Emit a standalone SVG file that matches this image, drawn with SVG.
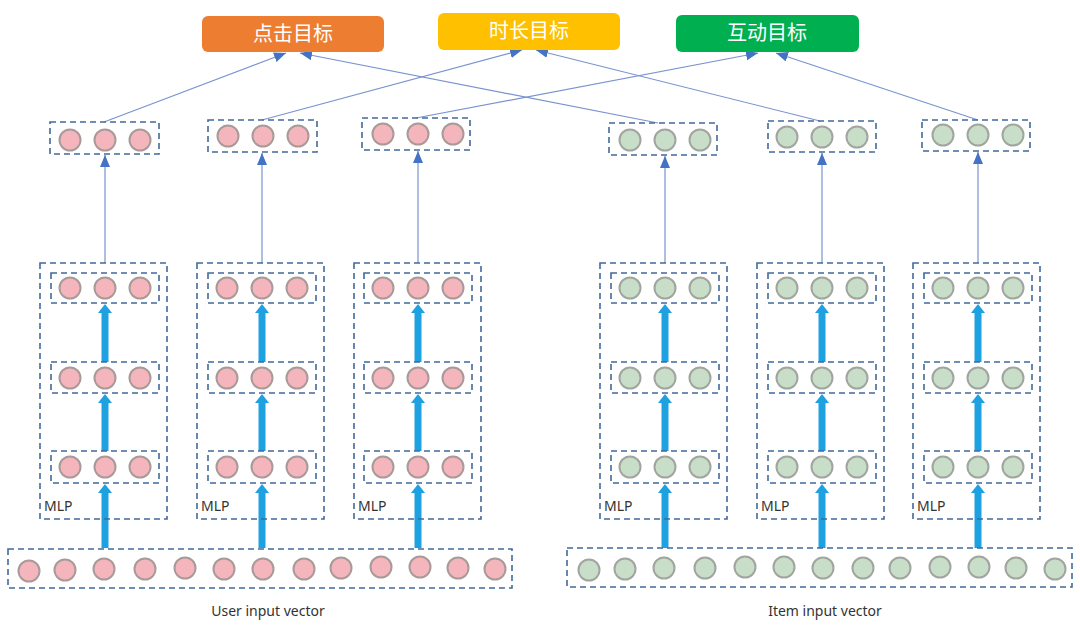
<svg xmlns="http://www.w3.org/2000/svg" width="1080" height="630" viewBox="0 0 1080 630">
<defs>
<style>
.dash{fill:none;stroke:#41699a;stroke-width:1.6;stroke-dasharray:6 4}
.p{fill:#f4b6bc;stroke:#a99a9a;stroke-width:2}
.g{fill:#c8dec8;stroke:#a0a69f;stroke-width:2}
.thin{fill:none;stroke:#7a93d0;stroke-width:1.2;marker-end:url(#ah)}
.thick{fill:none;stroke:#1ea1e0;stroke-width:7;marker-end:url(#bh)}
.tt{font-family:"Noto Sans CJK SC",sans-serif;font-size:20px;fill:#ffffff;text-anchor:middle}
.lb{font-family:"Noto Sans","Liberation Sans",sans-serif;font-size:14px;fill:#333333}
</style>
<marker id="ah" markerUnits="userSpaceOnUse" markerWidth="13" markerHeight="11" refX="12" refY="5" orient="auto"><path d="M0,0 L12,5 L0,10 z" fill="#4472c4"/></marker>
<marker id="bh" markerUnits="userSpaceOnUse" markerWidth="16" markerHeight="16" refX="2" refY="7" orient="auto"><path d="M0,0 L9,7 L0,14 z" fill="#1ea1e0"/></marker>
<g id="c3p"><circle cx="-35" cy="0" r="10.5" class="p"/><circle cx="0" cy="0" r="10.5" class="p"/><circle cx="35" cy="0" r="10.5" class="p"/></g>
<g id="c3g"><circle cx="-35" cy="0" r="10.5" class="g"/><circle cx="0" cy="0" r="10.5" class="g"/><circle cx="35" cy="0" r="10.5" class="g"/></g>
</defs>
<rect width="1080" height="630" fill="#ffffff"/>

<g id="connectors">
<line class="thin" x1="104" y1="122" x2="286" y2="53"/>
<line class="thin" x1="658" y1="123" x2="300" y2="53"/>
<line class="thin" x1="262" y1="120" x2="522" y2="50"/>
<line class="thin" x1="820" y1="121" x2="536" y2="50"/>
<line class="thin" x1="416" y1="118" x2="758" y2="53"/>
<line class="thin" x1="978" y1="120" x2="776" y2="53"/>
<line class="thin" x1="105" y1="263" x2="105" y2="155"/>
<line class="thin" x1="262" y1="263" x2="262" y2="153"/>
<line class="thin" x1="418" y1="263" x2="418" y2="151"/>
<line class="thin" x1="665" y1="263" x2="665" y2="156"/>
<line class="thin" x1="822" y1="263" x2="822" y2="153"/>
<line class="thin" x1="978" y1="263" x2="978" y2="152"/>
<line class="thick" x1="105" y1="548" x2="105" y2="491"/><line class="thick" x1="105" y1="451" x2="105" y2="401"/><line class="thick" x1="105" y1="362" x2="105" y2="311"/>
<line class="thick" x1="262" y1="548" x2="262" y2="491"/><line class="thick" x1="262" y1="451" x2="262" y2="401"/><line class="thick" x1="262" y1="362" x2="262" y2="311"/>
<line class="thick" x1="418" y1="548" x2="418" y2="491"/><line class="thick" x1="418" y1="451" x2="418" y2="401"/><line class="thick" x1="418" y1="362" x2="418" y2="311"/>
<line class="thick" x1="665" y1="548" x2="665" y2="491"/><line class="thick" x1="665" y1="451" x2="665" y2="401"/><line class="thick" x1="665" y1="362" x2="665" y2="311"/>
<line class="thick" x1="822" y1="548" x2="822" y2="491"/><line class="thick" x1="822" y1="451" x2="822" y2="401"/><line class="thick" x1="822" y1="362" x2="822" y2="311"/>
<line class="thick" x1="978" y1="548" x2="978" y2="491"/><line class="thick" x1="978" y1="451" x2="978" y2="401"/><line class="thick" x1="978" y1="362" x2="978" y2="311"/>
</g>

<g id="target-click"><rect x="202" y="16" width="182" height="36" rx="6" fill="#ed7d31"/><text class="tt" x="293" y="41">点击目标</text></g>
<g id="target-duration"><rect x="438" y="13" width="182" height="37" rx="6" fill="#ffc000"/><text class="tt" x="529" y="38">时长目标</text></g>
<g id="target-interact"><rect x="676" y="15" width="183" height="37" rx="6" fill="#00b050"/><text class="tt" x="767" y="40">互动目标</text></g>

<g id="user-out-1"><rect class="dash" x="50" y="122" width="109" height="32"/><use href="#c3p" x="105" y="140"/></g>
<g id="user-out-2"><rect class="dash" x="208" y="120" width="109" height="32"/><use href="#c3p" x="263" y="136"/></g>
<g id="user-out-3"><rect class="dash" x="362" y="118" width="108" height="32"/><use href="#c3p" x="418" y="134"/></g>
<g id="item-out-1"><rect class="dash" x="609" y="123" width="108" height="32"/><use href="#c3g" x="665" y="140"/></g>
<g id="item-out-2"><rect class="dash" x="768" y="121" width="108" height="31"/><use href="#c3g" x="822" y="137"/></g>
<g id="item-out-3"><rect class="dash" x="922" y="120" width="108" height="31"/><use href="#c3g" x="978" y="135"/></g>

<g id="user-mlp-1"><rect class="dash" x="40" y="263" width="127" height="256"/>
<rect class="dash" x="51" y="273" width="108" height="30"/><use href="#c3p" x="105" y="288"/>
<rect class="dash" x="51" y="362" width="108" height="31"/><use href="#c3p" x="105" y="378"/>
<rect class="dash" x="51" y="451" width="108" height="32"/><use href="#c3p" x="105" y="467"/>
<text class="lb" x="44" y="511">MLP</text></g>
<g id="user-mlp-2"><rect class="dash" x="197" y="263" width="127" height="256"/>
<rect class="dash" x="208" y="273" width="108" height="30"/><use href="#c3p" x="262" y="288"/>
<rect class="dash" x="208" y="362" width="108" height="31"/><use href="#c3p" x="262" y="378"/>
<rect class="dash" x="208" y="451" width="108" height="32"/><use href="#c3p" x="262" y="467"/>
<text class="lb" x="201" y="511">MLP</text></g>
<g id="user-mlp-3"><rect class="dash" x="354" y="263" width="127" height="256"/>
<rect class="dash" x="364" y="273" width="108" height="30"/><use href="#c3p" x="418" y="288"/>
<rect class="dash" x="364" y="362" width="108" height="31"/><use href="#c3p" x="418" y="378"/>
<rect class="dash" x="364" y="451" width="108" height="32"/><use href="#c3p" x="418" y="467"/>
<text class="lb" x="358" y="511">MLP</text></g>
<g id="item-mlp-1"><rect class="dash" x="600" y="263" width="127" height="256"/>
<rect class="dash" x="611" y="273" width="108" height="30"/><use href="#c3g" x="665" y="288"/>
<rect class="dash" x="611" y="362" width="108" height="31"/><use href="#c3g" x="665" y="378"/>
<rect class="dash" x="611" y="451" width="108" height="32"/><use href="#c3g" x="665" y="467"/>
<text class="lb" x="604" y="511">MLP</text></g>
<g id="item-mlp-2"><rect class="dash" x="757" y="263" width="127" height="256"/>
<rect class="dash" x="768" y="273" width="108" height="30"/><use href="#c3g" x="822" y="288"/>
<rect class="dash" x="768" y="362" width="108" height="31"/><use href="#c3g" x="822" y="378"/>
<rect class="dash" x="768" y="451" width="108" height="32"/><use href="#c3g" x="822" y="467"/>
<text class="lb" x="761" y="511">MLP</text></g>
<g id="item-mlp-3"><rect class="dash" x="913" y="263" width="127" height="256"/>
<rect class="dash" x="924" y="273" width="108" height="30"/><use href="#c3g" x="978" y="288"/>
<rect class="dash" x="924" y="362" width="108" height="31"/><use href="#c3g" x="978" y="378"/>
<rect class="dash" x="924" y="451" width="108" height="32"/><use href="#c3g" x="978" y="467"/>
<text class="lb" x="917" y="511">MLP</text></g>

<g id="user-input"><rect class="dash" x="8" y="549" width="504" height="39"/>
<circle cx="29" cy="571" r="10.5" class="p"/><circle cx="65" cy="570" r="10.5" class="p"/><circle cx="104" cy="569" r="10.5" class="p"/><circle cx="145" cy="569" r="10.5" class="p"/><circle cx="185" cy="568" r="10.5" class="p"/><circle cx="224" cy="569" r="10.5" class="p"/><circle cx="263" cy="569" r="10.5" class="p"/><circle cx="304" cy="569" r="10.5" class="p"/><circle cx="341" cy="568" r="10.5" class="p"/><circle cx="381" cy="567" r="10.5" class="p"/><circle cx="420" cy="567" r="10.5" class="p"/><circle cx="458" cy="568" r="10.5" class="p"/><circle cx="495" cy="569" r="10.5" class="p"/>
<text class="lb" x="268" y="616" text-anchor="middle">User input vector</text></g>
<g id="item-input"><rect class="dash" x="567" y="548" width="505" height="39"/>
<circle cx="589" cy="570" r="10.5" class="g"/><circle cx="625" cy="569" r="10.5" class="g"/><circle cx="664" cy="568" r="10.5" class="g"/><circle cx="705" cy="568" r="10.5" class="g"/><circle cx="745" cy="567" r="10.5" class="g"/><circle cx="784" cy="567" r="10.5" class="g"/><circle cx="823" cy="568" r="10.5" class="g"/><circle cx="863" cy="568" r="10.5" class="g"/><circle cx="900" cy="568" r="10.5" class="g"/><circle cx="940" cy="567" r="10.5" class="g"/><circle cx="979" cy="567" r="10.5" class="g"/><circle cx="1016" cy="568" r="10.5" class="g"/><circle cx="1055" cy="569" r="10.5" class="g"/>
<text class="lb" x="825" y="616" text-anchor="middle">Item input vector</text></g>
</svg>
